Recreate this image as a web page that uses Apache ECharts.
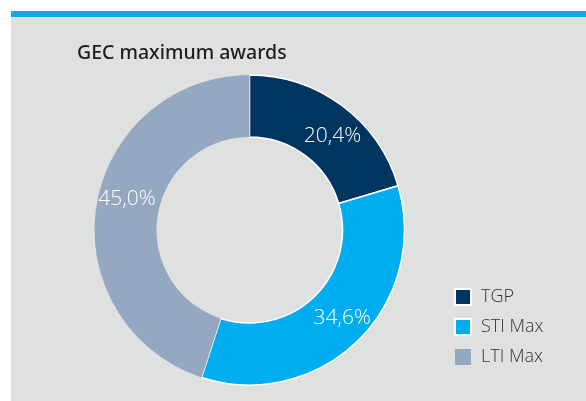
<!DOCTYPE html>
<html>
<head>
<meta charset="utf-8">
<script src="https://cdn.jsdelivr.net/npm/echarts@6/dist/echarts.min.js"></script>
<style>
  html, body { margin: 0; padding: 0; background: #ffffff; }
  #panel {
    position: absolute; left: 11px; top: 11px; width: 575px; height: 384px;
    background: #dfe1e0; border-top: 6px solid #00aeef;
  }
  #chart { position: absolute; left: 0; top: 0; width: 586px; height: 401px; }
</style>
</head>
<body>
<div id="panel"></div>
<div id="chart"></div>
<script>
// Shares of the maximum award package
const categories = ['TGP', 'STI Max', 'LTI Max'];
const shares = [20.4, 34.6, 45.0];
const colors = ['#003560', '#00aeef', '#95a8c2'];

// Small nudges that place each percentage label inside its slice
const labelShift = [[7, 8], [4, -3], [3, -11]];

const chart = echarts.init(document.getElementById('chart'), null, { renderer: 'canvas' });

const data = categories.map((name, i) => ({
  name: name,
  value: shares[i],
  itemStyle: {
    color: colors[i],
    borderColor: '#ffffff',
    borderWidth: i === 2 ? 0 : 1.5
  }
}));

chart.setOption({
  backgroundColor: 'transparent',
  animation: false,
  title: {
    text: 'GEC maximum awards',
    left: 72,
    top: 38,
    textStyle: {
      fontFamily: 'Noto Sans',
      fontSize: 19.5,
      fontWeight: 500,
      color: '#1d1d1b'
    }
  },
  legend: {
    orient: 'vertical',
    left: 454,
    top: 288,
    padding: 0,
    itemWidth: 16,
    itemHeight: 16,
    itemGap: 12,
    icon: 'rect',
    data: categories,
    textStyle: {
      fontFamily: 'Open Sans',
      fontSize: 18,
      fontWeight: 300,
      color: '#333333',
      padding: [0, 0, 0, 5]
    }
  },
  series: [{
    type: 'pie',
    center: [249.5, 230],
    radius: [93, 155],
    startAngle: 90,
    clockwise: true,
    silent: true,
    label: {
      show: true,
      position: 'inside',
      formatter: p => p.value.toFixed(1).replace('.', ',') + '%',
      fontFamily: 'Open Sans',
      fontSize: 21,
      fontWeight: 300,
      color: '#ffffff'
    },
    labelLine: { show: false },
    labelLayout: function (params) {
      const s = labelShift[params.dataIndex];
      return { dx: s[0], dy: s[1] };
    },
    data: data
  }]
});
</script>
</body>
</html>
